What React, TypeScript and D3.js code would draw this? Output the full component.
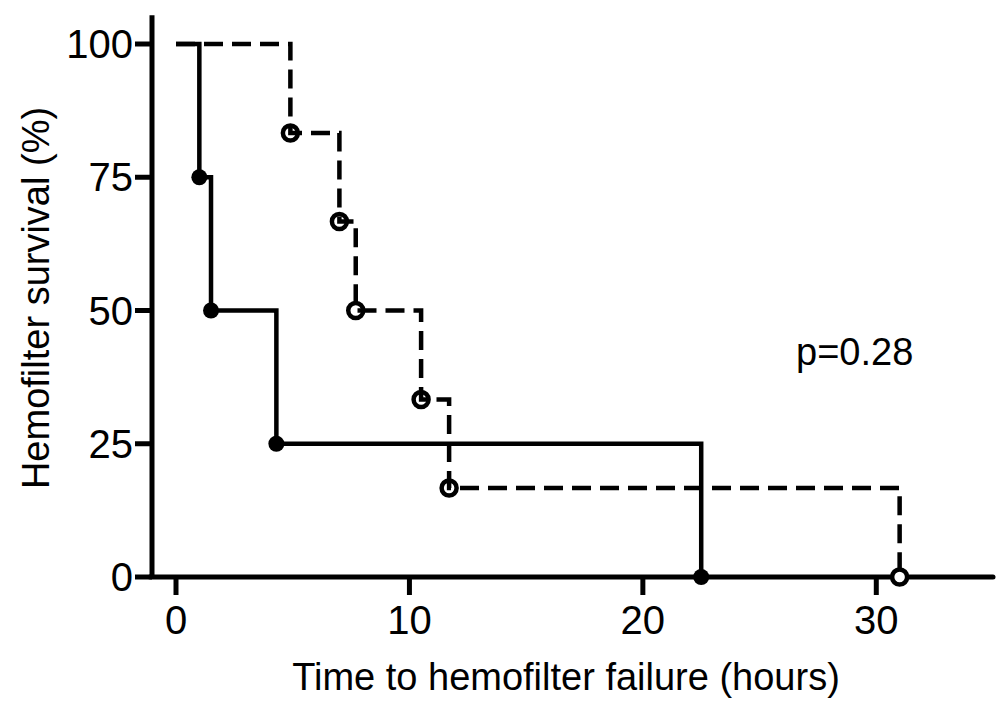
import React, { useRef, useEffect } from 'react';
import * as d3 from 'd3';

// Kaplan-Meier style step data (hours, % survival)
const solidTimes = [0, 1.0, 1.5, 4.3, 22.5];
const solidSurvival = [100, 75, 50, 25, 0];

const dashedTimes = [0, 4.9, 7.0, 7.7, 10.5, 11.7, 31.0];
const dashedSurvival = [100, 83.3, 66.7, 50, 33.3, 16.7, 0];

const xTicks = [0, 10, 20, 30];
const yTicks = [0, 25, 50, 75, 100];

const xTitle = 'Time to hemofilter failure (hours)';
const yTitle = 'Hemofilter survival (%)';
const pLabel = 'p=0.28';

const W = 1004;
const H = 716;
const FONT = '"Liberation Sans", Arial, sans-serif';

const App = () => {
  const svgRef = useRef<SVGSVGElement>(null);

  useEffect(() => {
    const svg = d3.select(svgRef.current)
      .attr('width', W)
      .attr('height', H)
      .style('background', '#fff');

    svg.selectAll('*').remove();

    const x = d3.scaleLinear().domain([0, 35]).range([176, 993]);
    const y = d3.scaleLinear().domain([0, 100]).range([577, 44]);

    // axes
    const axisLeftX = 152;
    svg.append('line')
      .attr('x1', axisLeftX).attr('x2', axisLeftX)
      .attr('y1', y(105.4)).attr('y2', y(0) + 2)
      .attr('stroke', '#000').attr('stroke-width', 5);
    svg.append('line')
      .attr('x1', axisLeftX - 2).attr('x2', x(35))
      .attr('y1', y(0)).attr('y2', y(0))
      .attr('stroke', '#000').attr('stroke-width', 5)
      .attr('stroke-linecap', 'round');

    // y ticks
    const yg = svg.append('g');
    yTicks.forEach(t => {
      yg.append('line')
        .attr('x1', axisLeftX - 17).attr('x2', axisLeftX)
        .attr('y1', y(t)).attr('y2', y(t))
        .attr('stroke', '#000').attr('stroke-width', 5);
      yg.append('text')
        .attr('x', 133).attr('y', y(t) + 14)
        .attr('text-anchor', 'end')
        .style('font-family', FONT).style('font-size', '40px')
        .text(t);
    });

    // x ticks
    const xg = svg.append('g');
    xTicks.forEach(t => {
      xg.append('line')
        .attr('x1', x(t)).attr('x2', x(t))
        .attr('y1', y(0)).attr('y2', y(0) + 18)
        .attr('stroke', '#000').attr('stroke-width', 5);
      xg.append('text')
        .attr('x', x(t)).attr('y', 634)
        .attr('text-anchor', 'middle')
        .style('font-family', FONT).style('font-size', '40px')
        .text(t);
    });

    // titles
    svg.append('text')
      .attr('x', 566).attr('y', 690)
      .attr('text-anchor', 'middle')
      .style('font-family', FONT).style('font-size', '38px')
      .text(xTitle);
    svg.append('text')
      .attr('transform', 'translate(49,298) rotate(-90)')
      .attr('text-anchor', 'middle')
      .style('font-family', FONT).style('font-size', '38px')
      .text(yTitle);
    svg.append('text')
      .attr('x', 796).attr('y', 365)
      .style('font-family', FONT).style('font-size', '38px')
      .text(pLabel);

    const line = d3.line<[number, number]>()
      .x(d => x(d[0]))
      .y(d => y(d[1]))
      .curve(d3.curveStepAfter);

    const solid = solidTimes.map((t, i) => [t, solidSurvival[i]] as [number, number]);
    const dashed = dashedTimes.map((t, i) => [t, dashedSurvival[i]] as [number, number]);

    // markers (drawn under the lines)
    svg.append('g').selectAll('circle')
      .data(solid.slice(1))
      .enter()
      .append('circle')
      .attr('cx', d => x(d[0]))
      .attr('cy', d => y(d[1]))
      .attr('r', 8)
      .attr('fill', '#000');

    svg.append('g').selectAll('circle')
      .data(dashed.slice(1))
      .enter()
      .append('circle')
      .attr('cx', d => x(d[0]))
      .attr('cy', d => y(d[1]))
      .attr('r', 7.5)
      .attr('fill', '#fff')
      .attr('stroke', '#000')
      .attr('stroke-width', 4.5);

    svg.append('path')
      .attr('d', line(dashed))
      .attr('fill', 'none')
      .attr('stroke', '#000')
      .attr('stroke-width', 4.5)
      .attr('stroke-dasharray', '19 9');

    svg.append('path')
      .attr('d', line(solid))
      .attr('fill', 'none')
      .attr('stroke', '#000')
      .attr('stroke-width', 4.5);
  }, []);

  return (
    <svg ref={svgRef} style={{ position: 'absolute', left: 0, top: 0, display: 'block' }}></svg>
  );
};

export default App;
